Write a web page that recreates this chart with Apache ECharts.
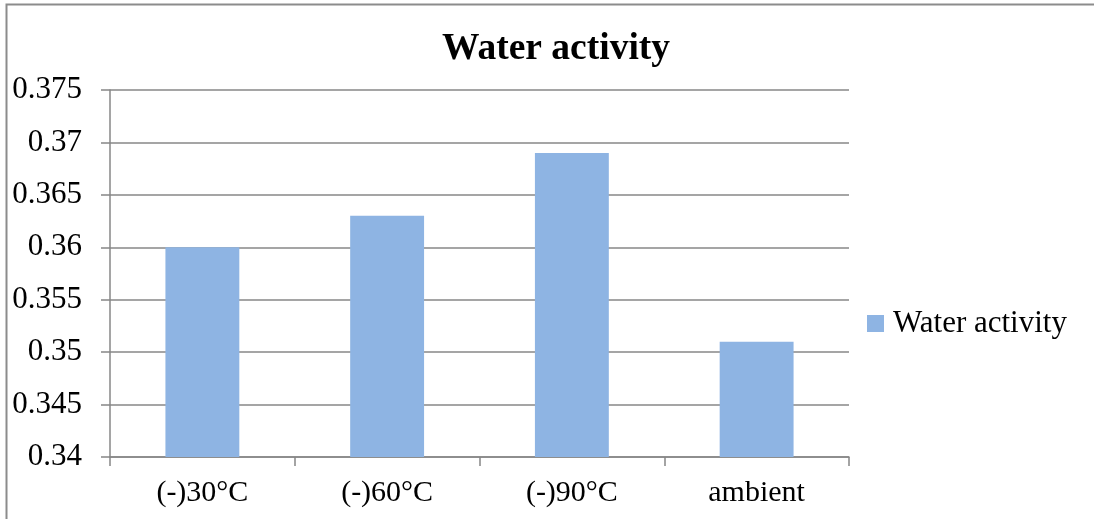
<!DOCTYPE html>
<html>
<head>
<meta charset="utf-8">
<script src="https://cdn.jsdelivr.net/npm/echarts@6/dist/echarts.min.js"></script>
<style>html,body{margin:0;padding:0;background:#fff}#c{width:1094px;height:519px}</style>
</head>
<body>
<div id="c"></div>
<script>
const categories = ['(-)30°C', '(-)60°C', '(-)90°C', 'ambient'];
const waterActivity = [0.360, 0.363, 0.369, 0.351];
const yTickLabels = { min: 0.34, max: 0.375, interval: 0.005 };
const seriesName = 'Water activity';
const titleText = 'Water activity';

const chart = echarts.init(document.getElementById('c'), null, { renderer: 'canvas' });
const font = 'Liberation Serif';
chart.setOption({
  animation: false,
  backgroundColor: '#fff',
  title: {
    text: titleText,
    left: 442, top: 30, padding: 0,
    textStyle: { fontFamily: font, fontSize: 37.5, fontWeight: 'bold', color: '#000' }
  },
  legend: {
    data: [seriesName],
    left: 867, top: 308, padding: 0,
    orient: 'vertical',
    icon: 'rect', itemWidth: 17, itemHeight: 17, itemGap: 8,
    textStyle: { fontFamily: font, fontSize: 31, color: '#000', padding: [0,0,0,4] }
  },
  grid: { left: 110, right: 245, top: 90, bottom: 62, containLabel: false },
  xAxis: {
    type: 'category',
    data: categories,
    axisLine: { lineStyle: { color: '#878787', width: 1.5 } },
    axisTick: { show: true, length: 9, lineStyle: { color: '#878787', width: 1.5 } },
    axisLabel: { fontFamily: font, fontSize: 30, color: '#000', margin: 21 }
  },
  yAxis: {
    type: 'value',
    min: yTickLabels.min, max: yTickLabels.max, interval: yTickLabels.interval,
    axisLine: { show: true, lineStyle: { color: '#878787', width: 1.5 } },
    axisTick: { show: true, length: 9, lineStyle: { color: '#878787', width: 1.5 } },
    splitLine: { lineStyle: { color: '#878787', width: 1.5 } },
    axisLabel: {
      fontFamily: font, fontSize: 31, color: '#000', margin: 28,
      formatter: v => String(parseFloat(v.toFixed(3)))
    }
  },
  series: [{
    name: seriesName,
    type: 'bar',
    data: waterActivity,
    barWidth: '40%',
    itemStyle: { color: '#8EB4E3' }
  }],
  graphic: [{
    type: 'rect',
    shape: { x: 6.5, y: 4.5, width: 1200, height: 600 },
    style: { fill: null, stroke: '#8c8c8c', lineWidth: 2 },
    silent: true
  }]
});
</script>
</body>
</html>
